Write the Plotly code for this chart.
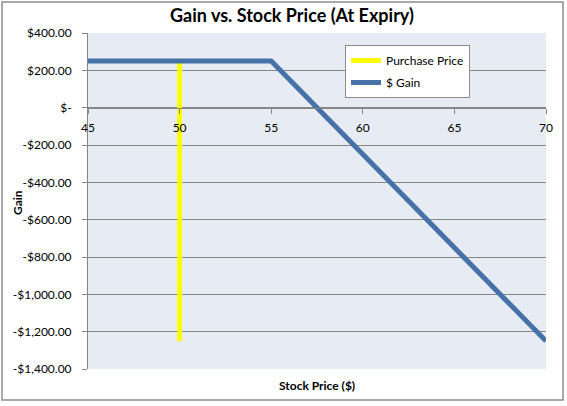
import plotly.graph_objects as go

# data
stock_price = [45, 50, 55, 60, 65, 70]
gain = [250, 250, 250, -250, -750, -1250]
purchase_x = [50, 50]
purchase_y = [250, -1250]

x_ticks = [45, 50, 55, 60, 65, 70]
y_ticks = [400, 200, 0, -200, -400, -600, -800, -1000, -1200, -1400]
y_tick_text = ["$400.00", "$200.00", "$-", "-$200.00", "-$400.00", "-$600.00",
               "-$800.00", "-$1,000.00", "-$1,200.00", "-$1,400.00"]

font = "Lato, 'Open Sans', sans-serif"

fig = go.Figure()
fig.add_trace(go.Scatter(x=purchase_x, y=purchase_y, mode="lines",
                         name="Purchase Price", legendgroup="a",
                         line=dict(color="#FFFF00", width=5)))
fig.add_trace(go.Scatter(x=stock_price, y=gain, mode="lines",
                         name="$ Gain", legendgroup="b",
                         line=dict(color="#4672A8", width=5)))

# x axis crosses at y = 0 like Excel
y_min, y_max = -1400, 400
zero_pos = (0 - y_min) / (y_max - y_min)

fig.update_layout(
    width=567, height=406,
    margin=dict(l=88, r=21, t=33, b=37),
    paper_bgcolor="white",
    plot_bgcolor="#E7ECF4",
    font=dict(family=font, size=12, color="black"),
    title=dict(text="<b>Gain vs. Stock Price (At Expiry)</b>",
               x=292 / 567, xref="container", xanchor="center",
               y=1 - 16 / 406, yref="container", yanchor="middle",
               font=dict(size=18, family=font)),
    showlegend=True,
    legend=dict(x=(345 - 88) / 458, y=(369 - 45) / 336,
                xanchor="left", yanchor="top",
                bgcolor="white", bordercolor="#8C8C8C", borderwidth=1,
                font=dict(size=12, family=font),
                tracegroupgap=3, itemwidth=30),
    xaxis=dict(range=[45, 70], tickvals=x_ticks, showgrid=False,
               zeroline=False, showline=True, linecolor="#868686",
               linewidth=1, ticks="outside", ticklen=5, tickcolor="#868686",
               anchor="free", position=zero_pos, ticklabelstandoff=4,
               tickfont=dict(size=12, family=font)),
    yaxis=dict(range=[y_min, y_max], tickvals=y_ticks, ticktext=y_tick_text,
               showgrid=True, gridcolor="#868686", gridwidth=1,
               zeroline=False, showline=True, linecolor="#868686",
               linewidth=1, ticks="outside", ticklen=5, tickcolor="#868686",
               ticklabelstandoff=8,
               tickfont=dict(size=12, family=font)),
)

fig.add_annotation(text="<b>Stock Price ($)</b>", x=0.5, y=(369 - 385) / 336,
                   xref="paper", yref="paper", showarrow=False,
                   xanchor="center", yanchor="middle",
                   font=dict(size=12, family=font))
fig.add_annotation(text="<b>Gain</b>", x=(17 - 88) / 458, y=(369 - 203) / 336,
                   xref="paper", yref="paper", showarrow=False, textangle=-90,
                   xanchor="center", yanchor="middle",
                   font=dict(size=12, family=font))

# chart outer border
fig.add_shape(type="rect", xref="paper", yref="paper",
              x0=(2 - 88) / 458, x1=(563 - 88) / 458,
              y0=(369 - 400) / 336, y1=(369 - 2) / 336,
              line=dict(color="#8C8C8C", width=1.5))

# drop the default body margin so the figure sits at the window corner
fig.write_html("out.html", config={"displayModeBar": False},
               post_script="document.body.style.margin='0';")
